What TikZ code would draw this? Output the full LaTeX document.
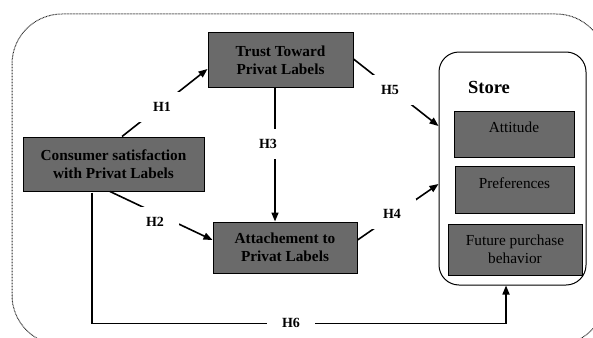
\documentclass[tikz,border=0pt]{standalone}
\usepackage{fontspec}
\setmainfont{Liberation Serif}
\usetikzlibrary{calc,arrows.meta}
\definecolor{boxgray}{RGB}{106,106,106}
\tikzset{
  box/.style={draw=black, line width=1pt, fill=boxgray, align=center, inner sep=0pt},
  btxt/.style={font=\fontsize{15.3}{18}\selectfont\bfseries, align=center},
  itxt/.style={font=\fontsize{15.3}{18}\selectfont, align=center},
  lbl/.style={fill=white, font=\fontsize{14}{16}\selectfont\bfseries, inner xsep=15pt, inner ysep=10pt, text height=9.5pt, text depth=0pt},
  arr/.style={line width=1.6pt, -{Triangle[length=9pt,width=7pt]}},
}
\begin{document}
\begin{tikzpicture}[x=1pt,y=-1pt]
\useasboundingbox (0,0) rectangle (593,337);
\clip (0,0) rectangle (593,337);
% outer dotted frame
\draw[black!85, line width=1pt, dash pattern=on 0.8pt off 0.7pt, rounded corners=50pt] (12,14) rectangle (606,345);

% boxes
\node[box, minimum width=145pt, minimum height=54pt, btxt] (trust) at (280.5,60) {Trust Toward\\Privat Labels};
\node[box, minimum width=181pt, minimum height=54pt, btxt] (cons) at (113.5,164) {Consumer satisfaction\\with Privat Labels};
\node[box, minimum width=144pt, minimum height=51pt, btxt] (att) at (285,247.5) {Attachement to\\Privat Labels};

\node[draw=black, line width=1pt, rounded corners=20pt, minimum width=147pt, minimum height=233pt, inner sep=0pt] (store) at (512.5,168.5) {};
\node[font=\fontsize{18.5}{20}\selectfont\bfseries] (storet) at (489,87) {Store};

\node[box, minimum width=120pt, minimum height=46pt] (attit) at (514,134) {};
\node[itxt] (attitt) at (514,127) {Attitude};
\node[box, minimum width=119pt, minimum height=47pt] (pref) at (514.5,189.5) {};
\node[itxt] (preft) at (514.5,183) {Preferences};
\node[box, minimum width=134pt, minimum height=51pt, itxt] (fut) at (515,249.5) {Future purchase\\behavior};

% connectors
\draw[arr] ($(cons.north)+(8.5,0)$) -- ($(trust.west)+(0,9)$);
\draw[arr] ($(trust.south)+(-5.5,0)$) -- ($(att.north)+(-10,0)$);
\draw[arr] ($(cons.south)+(-3.5,0)$) -- ($(att.west)+(0,-7.5)$);
\draw[arr] ($(trust.east)+(0,-1)$) -- ($(store.west)+(0,-42.5)$);
\draw[arr] ($(att.east)+(0,-7.5)$) -- ($(store.west)+(0,15.5)$);
\draw[arr] ($(cons.south)+(-21.5,1)$) |- ($(store.south)+(-6.5,38)$) -- ($(store.south)+(-6.5,0)$);

% labels
\node[lbl] (h1) at (162,107) {H1};
\node[lbl] (h2) at (155,222) {H2};
\node[lbl] (h3) at (268,144) {H3};
\node[lbl] (h4) at (392,214) {H4};
\node[lbl] (h5) at (390,90) {H5};
\node[lbl] (h6) at (291,323) {H6};
\end{tikzpicture}
\end{document}
